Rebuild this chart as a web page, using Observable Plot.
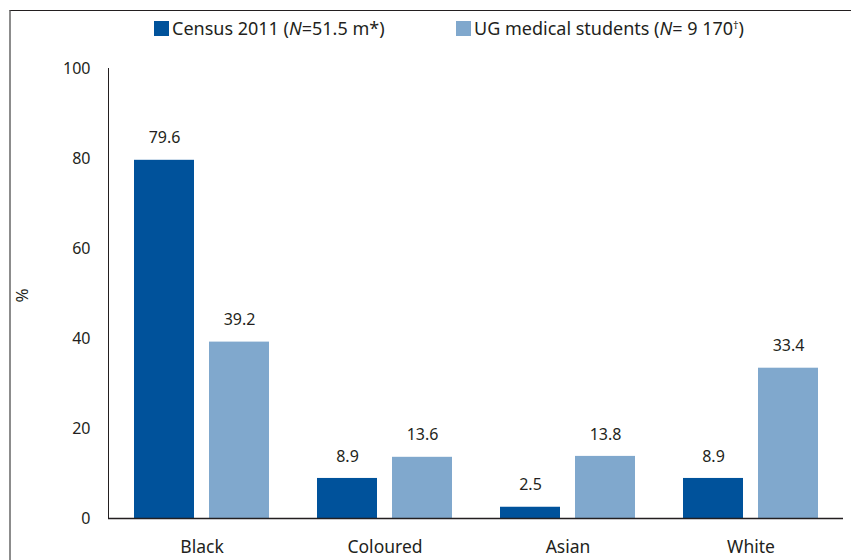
<!DOCTYPE html>
<html>
<head>
<meta charset="utf-8">
<script src="https://cdn.jsdelivr.net/npm/d3@7"></script>
<script src="https://cdn.jsdelivr.net/npm/@observablehq/plot@0.6"></script>
<style>
  html, body { margin: 0; padding: 0; background: #fff; }
  body { width: 851px; height: 560px; position: relative; overflow: hidden; font-family: "Noto Sans", sans-serif; color: #231f20; }
  #frame { position: absolute; left: 9px; top: 10px; width: 842px; height: 560px; border-left: 2px solid #8c8c8c; border-top: 1px solid #231f20; box-sizing: border-box; }
  .item { position: absolute; top: 16px; display: flex; align-items: center; font-size: 18px; white-space: nowrap; }
  .sw { width: 15px; height: 15px; margin-right: 3px; }
  #chart { position: absolute; left: 0; top: 48px; }
  #chart g[aria-label="x-axis tick label"] { font-size: 17.5px; }
</style>
</head>
<body>
<div id="frame"></div>
<div id="legend"></div>
<div id="chart"></div>
<script>
const categories = ["Black", "Coloured", "Asian", "White"];
const census = [79.6, 8.9, 2.5, 8.9];
const students = [39.2, 13.6, 13.8, 33.4];
const yTicks = [0, 20, 40, 60, 80, 100];
const seriesNames = ["Census 2011", "UG medical students"];
const colors = ["#00529b", "#80a8cd"];

// Legend
const legend = document.getElementById("legend");
const legendHTML = [
  'Census 2011 (<i>N</i>=51.5 m*)',
  'UG medical students (<i>N</i>= 9 170<sup style="font-size:0.6em;vertical-align:0.55em">†</sup>)'
];
const legendLeft = [154, 456];
legendHTML.forEach((h, i) => {
  const it = document.createElement("div");
  it.className = "item";
  it.style.left = legendLeft[i] + "px";
  it.innerHTML = `<span class="sw" style="background:${colors[i]}"></span><span>${h}</span>`;
  legend.appendChild(it);
});

const censusData = categories.map((c, i) => ({category: c, value: census[i]}));
const studentData = categories.map((c, i) => ({category: c, value: students[i]}));

const chart = Plot.plot({
  width: 851,
  height: 510,
  marginLeft: 108,
  marginRight: 8,
  marginTop: 20,
  marginBottom: 40,
  style: {fontFamily: "Noto Sans, sans-serif", fontSize: "16px", color: "#231f20", background: "transparent"},
  x: {
    type: "band",
    domain: categories,
    paddingInner: 0.264,
    paddingOuter: 0.134,
    tickSize: 0,
    tickPadding: 22,
    label: null
  },
  y: {
    domain: [0, 100],
    ticks: yTicks,
    tickSize: 0,
    tickPadding: 18,
    line: true,
    label: null
  },
  marks: [
    Plot.barY(censusData, {x: "category", y: "value", fill: colors[0], insetRight: 75}),
    Plot.barY(studentData, {x: "category", y: "value", fill: colors[1], insetLeft: 75}),
    Plot.text(censusData, {x: "category", y: "value", text: d => d.value.toFixed(1), dx: -37.5, dy: -22, fill: "#231f20", fontSize: 16}),
    Plot.text(studentData, {x: "category", y: "value", text: d => d.value.toFixed(1), dx: 37.5, dy: -22, fill: "#231f20", fontSize: 16}),
    Plot.text(["%"], {frameAnchor: "left", text: d => d, rotate: -90, dx: -86, dy: 9, fill: "#231f20", fontSize: 17}),
    Plot.ruleY([0], {stroke: "#231f20", strokeWidth: 1.5})
  ]
});
document.getElementById("chart").appendChild(chart);
</script>
</body>
</html>
